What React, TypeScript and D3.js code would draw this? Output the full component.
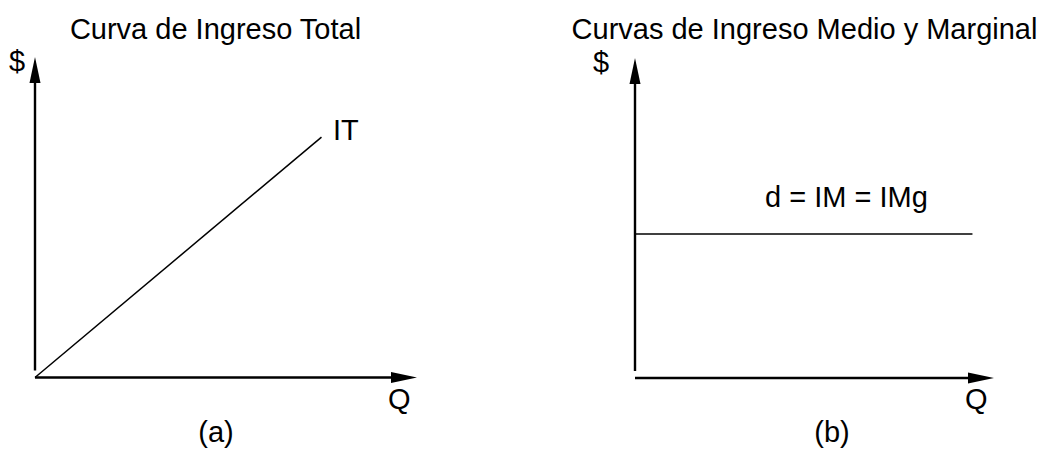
import React from "react";
import * as d3 from "d3";

const W = 1042;
const H = 449;

// Panel (a): total revenue curve
const itQ = [0, 7.5];
const itValue = [0, 7.5];
// Panel (b): demand = average revenue = marginal revenue (constant price)
const dQ = [0, 9.4];
const dValue = [4.5, 4.5];

const titles = ["Curva de Ingreso Total", "Curvas de Ingreso Medio y Marginal"];
const panelLabels = ["(a)", "(b)"];
const yAxisLabel = "$";
const xAxisLabel = "Q";
const itLabel = "IT";
const dLabel = "d = IM = IMg";

const FONT = "'Liberation Sans', Arial, Helvetica, sans-serif";
const FS = 29;

type PanelCfg = {
  x: d3.ScaleLinear<number, number>;
  y: d3.ScaleLinear<number, number>;
};

const panelA: PanelCfg = {
  x: d3.scaleLinear().domain([0, 10]).range([35, 417]),
  y: d3.scaleLinear().domain([0, 10]).range([377.5, 57]),
};
const panelB: PanelCfg = {
  x: d3.scaleLinear().domain([0, 10]).range([635, 994]),
  y: d3.scaleLinear().domain([0, 10]).range([378, 58]),
};

function Axes({ p }: { p: PanelCfg }) {
  const [x0, x1] = p.x.range();
  const [y0, y1] = p.y.range();
  const headLen = 26;
  const headHalf = 5.5;
  return (
    <g>
      <line x1={x0} y1={y0 - 7} x2={x0} y2={y1 + headLen - 1} stroke="#000" strokeWidth={2.4} />
      <path
        d={`M${x0},${y1} L${x0 - headHalf},${y1 + headLen} L${x0 + headHalf},${y1 + headLen} Z`}
        fill="#000"
      />
      <line x1={x0} y1={y0} x2={x1 - headLen + 1} y2={y0} stroke="#000" strokeWidth={2.4} />
      <path
        d={`M${x1},${y0} L${x1 - headLen},${y0 - headHalf} L${x1 - headLen},${y0 + headHalf} Z`}
        fill="#000"
      />
    </g>
  );
}

export default function App() {
  const lineA = d3
    .line<number>()
    .x((_, i) => panelA.x(itQ[i]))
    .y((v) => panelA.y(v));
  const lineB = d3
    .line<number>()
    .x((_, i) => panelB.x(dQ[i]))
    .y((v) => panelB.y(v));

  const textStyle: React.CSSProperties = { fontFamily: FONT, fontSize: FS, fill: "#000" };

  return (
    <svg
      width={W}
      height={H}
      style={{ position: "absolute", left: 0, top: 0, background: "#fff" }}
    >
      <rect width={W} height={H} fill="#fff" />
      {/* Panel (a) */}
      <Axes p={panelA} />
      <path d={lineA(itValue) || ""} fill="none" stroke="#000" strokeWidth={1.5} />
      <text x={215.5} y={39} textAnchor="middle" style={textStyle}>{titles[0]}</text>
      <text x={9} y={71} style={textStyle}>{yAxisLabel}</text>
      <text x={333} y={140} style={textStyle}>{itLabel}</text>
      <text x={388} y={409} style={textStyle}>{xAxisLabel}</text>
      <text x={216} y={442} textAnchor="middle" style={textStyle}>{panelLabels[0]}</text>

      {/* Panel (b) */}
      <Axes p={panelB} />
      <path d={lineB(dValue) || ""} fill="none" stroke="#000" strokeWidth={1.4} />
      <text x={804.5} y={39} textAnchor="middle" style={textStyle}>{titles[1]}</text>
      <text x={593} y={72} style={textStyle}>{yAxisLabel}</text>
      <text x={765} y={207} style={textStyle}>{dLabel}</text>
      <text x={965} y={409} style={textStyle}>{xAxisLabel}</text>
      <text x={832} y={442} textAnchor="middle" style={textStyle}>{panelLabels[1]}</text>
    </svg>
  );
}
